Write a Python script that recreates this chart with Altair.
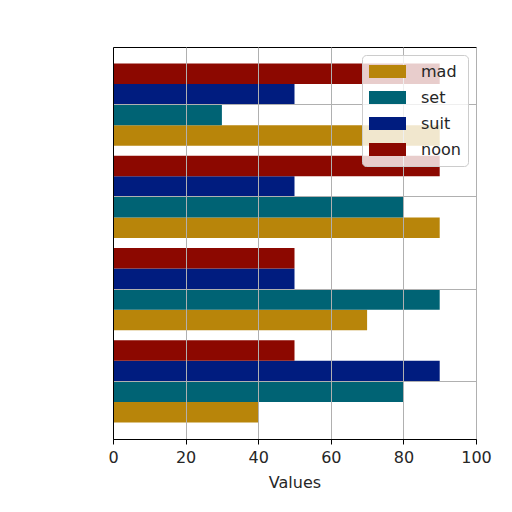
import altair as alt
import pandas as pd

groups = ["G1", "G2", "G3", "G4"]
series = ["mad", "set", "suit", "noon"]
mad = [40, 70, 90, 90]
set_vals = [80, 90, 80, 30]
suit = [90, 50, 50, 50]
noon = [50, 50, 90, 90]
colors = ["#b8850a", "#006374", "#001c7f", "#8c0800"]
x_ticks = [0, 20, 40, 60, 80, 100]

rows = []
for s, vals in zip(series, [mad, set_vals, suit, noon]):
    for g, v in zip(groups, vals):
        rows.append({"group": g, "series": s, "value": v})
df = pd.DataFrame(rows)

FONT = "DejaVu Sans"

chart = alt.Chart(df).mark_bar().encode(
    x=alt.X(
        "value:Q",
        scale=alt.Scale(domain=[0, 100], nice=False),
        axis=alt.Axis(
            values=x_ticks, title="Values", grid=True, gridColor="#b0b0b0",
            gridWidth=1, domainColor="#000000", tickColor="#000000",
            tickSize=5, labelFontSize=16, titleFontSize=16, labelFont=FONT,
            titleFont=FONT, labelColor="#262626", titleColor="#262626",
            titleFontWeight="normal", labelPadding=5, titlePadding=9,
            zindex=1, labelFlush=False,
        ),
    ),
    y=alt.Y(
        "group:N",
        scale=alt.Scale(domain=groups[::-1], paddingInner=0.11, paddingOuter=0.18),
        axis=alt.Axis(
            labels=False, ticks=False, title=None, grid=True, bandPosition=0.5,
            gridColor="#b0b0b0", gridWidth=1, domainColor="#000000", zindex=1,
        ),
    ),
    yOffset=alt.YOffset("series:N", scale=alt.Scale(domain=series[::-1])),
    color=alt.Color(
        "series:N",
        scale=alt.Scale(domain=series, range=colors),
        legend=alt.Legend(
            orient="top-right", offset=8, title=None,
            fillColor="rgba(255,255,255,0.8)", strokeColor="#cccccc",
            cornerRadius=4, padding=7,
            symbolType="M-1,-0.35H1V0.35H-1Z", symbolSize=1369,
            symbolStrokeWidth=0, symbolOpacity=1,
            labelFontSize=16, labelFont=FONT, labelColor="#262626",
            labelOffset=15, clipHeight=19, rowPadding=7, zindex=2,
        ),
    ),
).properties(
    width=363,
    height=392,
    padding={"left": 105, "top": 39, "right": 28, "bottom": 65},
    autosize=alt.AutoSizeParams(type="none"),
).configure_view(stroke="#000000", strokeWidth=1)

chart.save("out.html", embed_options={"renderer": "svg", "actions": False})
